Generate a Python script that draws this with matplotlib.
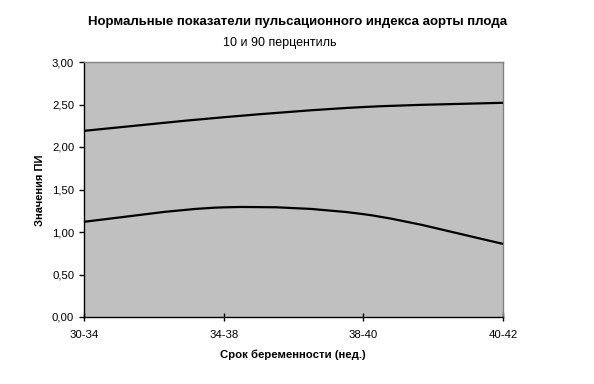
import matplotlib
matplotlib.use("Agg")
import matplotlib.pyplot as plt
from matplotlib.path import Path
from matplotlib.patches import PathPatch
from matplotlib.ticker import FuncFormatter, MultipleLocator

categories = ["30-34", "34-38", "38-40", "40-42"]
p90 = [2.19, 2.35, 2.47, 2.52]
p10 = [1.12, 1.29, 1.21, 0.86]

plt.rcParams['font.family'] = ['Liberation Sans', 'DejaVu Sans']

fig = plt.figure(figsize=(5.94, 3.84), dpi=100)
fig.patch.set_facecolor('white')
ax = fig.add_axes([84/594, 1-317/384, (503-84)/594, (317-62)/384])
ax.set_facecolor('#C0C0C0')


def smooth_path(ys):
    xs = list(range(len(ys)))
    pts = list(zip(xs, ys))
    n = len(pts)
    verts = [pts[0]]
    codes = [Path.MOVETO]
    for i in range(n - 1):
        p0 = pts[max(i - 1, 0)]
        p1 = pts[i]
        p2 = pts[i + 1]
        p3 = pts[min(i + 2, n - 1)]
        c1 = (p1[0] + (p2[0] - p0[0]) / 6, p1[1] + (p2[1] - p0[1]) / 6)
        c2 = (p2[0] - (p3[0] - p1[0]) / 6, p2[1] - (p3[1] - p1[1]) / 6)
        verts += [c1, c2, p2]
        codes += [Path.CURVE4] * 3
    return Path(verts, codes)


for ys in (p90, p10):
    ax.add_patch(PathPatch(smooth_path(ys), facecolor='none', edgecolor='black',
                           lw=1.6, zorder=3, clip_on=False))

ax.set_xlim(0, len(categories) - 1)
ax.set_ylim(0, 3)
ax.set_xticks(range(len(categories)))
ax.set_xticklabels(categories)
ax.yaxis.set_major_locator(MultipleLocator(0.5))
ax.yaxis.set_major_formatter(FuncFormatter(lambda v, p: f"{v:.2f}".replace('.', ',')))

for s in ('top', 'right'):
    ax.spines[s].set_color('#808080')
    ax.spines[s].set_linewidth(1.0)
for s in ('left', 'bottom'):
    ax.spines[s].set_color('black')
    ax.spines[s].set_linewidth(1.0)

ax.tick_params(axis='y', direction='out', length=3.6, width=1, labelsize=8.2, pad=3.5)
ax.tick_params(axis='x', direction='inout', length=6, width=1, labelsize=8.2, pad=6)

fig.text(298/594, 1-22/384, "Нормальные показатели пульсационного индекса аорты плода",
         ha='center', va='center', fontsize=9.5, fontweight='bold')
fig.text(280/594, 1-43/384, "10 и 90 перцентиль", ha='center', va='center', fontsize=9)
fig.text(40/594, 1-190/384, "Значения ПИ", ha='center', va='center', rotation=90,
         fontsize=8, fontweight='bold')
fig.text(293/594, 1-355/384, "Срок беременности (нед.)", ha='center', va='center',
         fontsize=8.2, fontweight='bold')

fig.savefig("out.png", dpi=100)
